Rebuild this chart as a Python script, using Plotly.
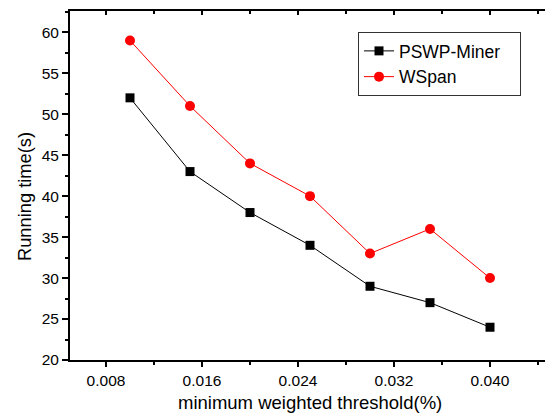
import plotly.graph_objects as go

thresholds = [0.010, 0.015, 0.020, 0.025, 0.030, 0.035, 0.040]
pswp_miner = [52, 43, 38, 34, 29, 27, 24]
wspan = [59, 51, 44, 40, 33, 36, 30]
series_names = ["PSWP-Miner", "WSpan"]
x_ticks = [0.008, 0.016, 0.024, 0.032, 0.040]
x_tick_labels = ["0.008", "0.016", "0.024", "0.032", "0.040"]
y_ticks = [20, 25, 30, 35, 40, 45, 50, 55, 60]

FONT = "Liberation Sans, Arial, sans-serif"
xr = [0.005, 0.005 + 475 / 96 * 0.008]
yr = [20, 62.6]
PAD = "\u00a0" * 3  # widen legend box a little

fig = go.Figure()
fig.add_trace(go.Scatter(x=thresholds, y=pswp_miner, name=series_names[0] + PAD, mode="lines+markers",
                         line=dict(color="black", width=1),
                         marker=dict(symbol="square", size=9, color="black")))
fig.add_trace(go.Scatter(x=thresholds, y=wspan, name=series_names[1], mode="lines+markers",
                         line=dict(color="red", width=1),
                         marker=dict(symbol="circle", size=10, color="red")))

axis_common = dict(showgrid=False, zeroline=False, showline=True, linecolor="black", linewidth=2,
                   tickcolor="black", tickwidth=1.5)

fig.update_layout(
    width=545, height=418,
    margin=dict(l=70, r=0, t=11, b=58),
    paper_bgcolor="white", plot_bgcolor="white",
    font=dict(family=FONT, color="black"),
    xaxis=dict(range=xr, tickvals=x_ticks, ticktext=x_tick_labels, ticks="outside", ticklen=5,
               tickfont=dict(size=15.5),
               minor=dict(ticks="outside", ticklen=3, dtick=0.004, tick0=0, tickcolor="black", tickwidth=1.5),
               **axis_common),
    xaxis2=dict(range=xr, overlaying="x", side="top", tickvals=x_ticks, ticks="inside", ticklen=4,
                showticklabels=False,
                minor=dict(ticks="inside", ticklen=3, dtick=0.004, tick0=0, tickcolor="black", tickwidth=1.5),
                **axis_common),
    yaxis=dict(range=yr, tickvals=y_ticks, ticks="outside", ticklen=6, tickfont=dict(size=15.5),
               minor=dict(ticks="outside", ticklen=3, dtick=2.5, tick0=0, tickcolor="black", tickwidth=1.5),
               **axis_common),
    showlegend=True,
    legend=dict(x=(358 - 70) / 475, y=(360 - 32) / 349, xanchor="left", yanchor="top", bgcolor="white",
                bordercolor="#333", borderwidth=1, font=dict(size=17.5, family=FONT),
                tracegroupgap=0, itemwidth=30),
    annotations=[
        dict(text="minimum weighted threshold(%)", x=(310 - 70) / 475, y=(360 - 402) / 349,
             xref="paper", yref="paper", xanchor="center", yanchor="middle",
             showarrow=False, font=dict(size=18.5)),
        dict(text="Running time(s)", textangle=-90, x=(24 - 70) / 475, y=(360 - 197) / 349,
             xref="paper", yref="paper", xanchor="center", yanchor="middle",
             showarrow=False, font=dict(size=18.3)),
    ],
)
# dummy trace to activate the mirrored top axis
fig.add_trace(go.Scatter(x=[None], y=[None], xaxis="x2", showlegend=False, hoverinfo="skip"))

fig.write_html("out.html", config={"displayModeBar": False},
               post_script="document.body.style.margin='0';document.body.style.overflow='hidden';")
